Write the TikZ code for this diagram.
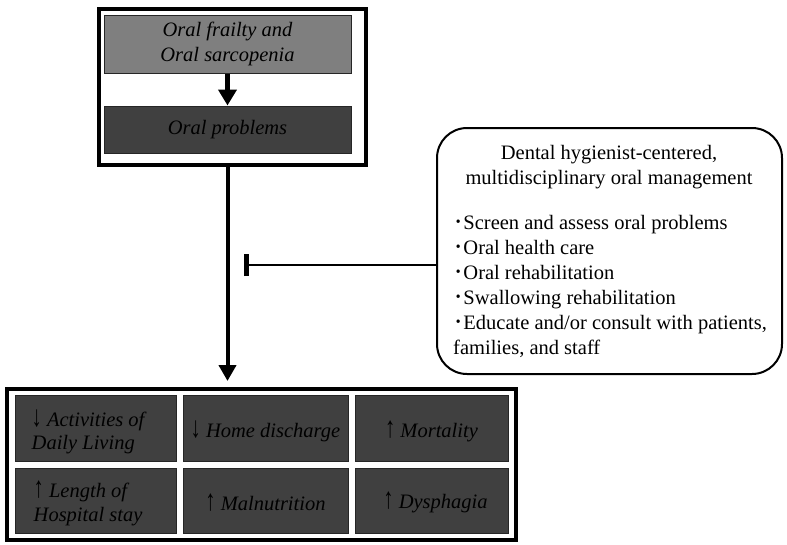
\documentclass[tikz,border=0pt]{standalone}
\usepackage{fontspec}
\setmainfont{Liberation Serif}
\newfontfamily\cjk{Noto Sans CJK JP}
\usetikzlibrary{arrows.meta}
\definecolor{midgray}{HTML}{7F7F7F}
\definecolor{darkgray}{HTML}{404040}
\definecolor{edgegray}{HTML}{262626}
\newcommand{\fsz}{\fontsize{20.5}{24.5}\selectfont}
\newcommand{\dn}{{\upshape\scalebox{1}[1.45]{↓}}}
\newcommand{\up}{{\upshape\scalebox{1}[1.45]{↑}}}
\begin{document}
\begin{tikzpicture}[x=1pt,y=-1pt,
  frame/.style={draw=black, line width=4pt, inner sep=0pt},
  lightbox/.style={draw=edgegray, line width=1pt, fill=midgray, inner sep=0pt, font=\fsz\itshape, align=center},
  darkbox/.style={draw=edgegray, line width=1pt, fill=darkgray, inner sep=0pt, font=\fsz\itshape, align=center},
  celltext/.style={inner sep=0pt, font=\fontsize{20.5}{23.5}\selectfont\itshape},
  mgmtbox/.style={draw=black, line width=2pt, rounded corners=30pt, inner sep=0pt},
  txt/.style={font=\fsz, inner sep=0pt},
  bigarrow/.style={line width=4pt, -{Triangle[width=17pt,length=16pt]}},
  smallarrow/.style={line width=5pt, -{Triangle[width=18pt,length=16pt]}},
  inhibit/.style={line width=2.5pt, -{Bar[width=22pt,line width=5pt]}}
]
\useasboundingbox (0,0) rectangle (787,544);

% top group
\node[frame, minimum width=267, minimum height=156] (top) at (232.5,87) {};
\node[lightbox, minimum width=247, minimum height=58] (b1) at (227.5,44) {Oral frailty and\\Oral sarcopenia};
\node[darkbox, minimum width=247, minimum height=47] (b2) at (227.5,129.5) {Oral problems};
\draw[smallarrow] (b1.south) -- (b2.north);

% bottom group
\node[frame, minimum width=509, minimum height=151] (bot) at (261.5,464.5) {};
\node[darkbox, minimum width=161, minimum height=66] (c11) at (95.5,428) {};
\node[darkbox, minimum width=165, minimum height=66] (c12) at (265.5,428) {};
\node[darkbox, minimum width=153, minimum height=66] (c13) at (431.5,428) {};
\node[darkbox, minimum width=161, minimum height=65] (c21) at (95.5,500.5) {};
\node[darkbox, minimum width=165, minimum height=65] (c22) at (265.5,500.5) {};
\node[darkbox, minimum width=153, minimum height=65] (c23) at (431.5,500.5) {};
\node[celltext, align=left, anchor=west] (t11) at ([xshift=17pt,yshift=-4pt]c11.west) {\dn\ Activities of\\Daily Living};
\node[celltext] (t12) at ([yshift=-3pt]c12.center) {\dn\ Home discharge};
\node[celltext] (t13) at ([yshift=-3pt]c13.center) {\up\ Mortality};
\node[celltext, align=left, anchor=west] (t21) at ([xshift=19pt,yshift=-3pt]c21.west) {\up\ Length of\\Hospital stay};
\node[celltext] (t22) at ([yshift=-2pt]c22.center) {\up\ Malnutrition};
\node[celltext] (t23) at ([xshift=4pt,yshift=-2pt]c23.center) {\up\ Dysphagia};

% main arrow
\draw[bigarrow] (top.south -| b2.south) -- ([yshift=6pt]bot.north -| b2.south);

% management box
\node[mgmtbox, minimum width=345, minimum height=246] (mgmt) at (609.5,251) {};
\node[txt, align=center] (title) at (609,167) {Dental hygienist-centered,\\multidisciplinary oral management};
\node[txt, align=left, anchor=west, font=\fontsize{20.5}{25}\selectfont] (list) at (453,286) {%
{\cjk ･}Screen and assess oral problems\\
{\cjk ･}Oral health care\\
{\cjk ･}Oral rehabilitation\\
{\cjk ･}Swallowing rehabilitation\\
{\cjk ･}Educate and/or consult with patients,\\
families, and staff};

\coordinate (inh) at (244,265);
\draw[inhibit] (inh -| mgmt.west) -- (inh);
\end{tikzpicture}
\end{document}
